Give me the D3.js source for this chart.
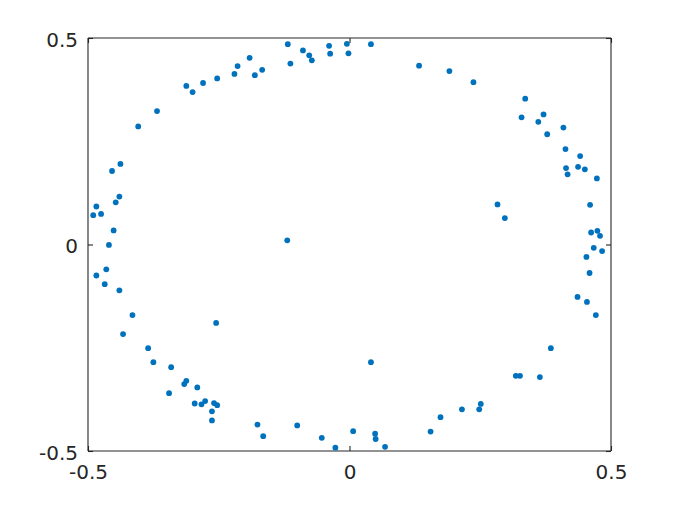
<!DOCTYPE html>
<html>
<head>
<meta charset="utf-8">
<script src="https://cdn.jsdelivr.net/npm/d3@7"></script>
<style>
  html, body { margin: 0; padding: 0; background: #fff; }
  svg { display: block; }
</style>
</head>
<body>
<svg id="chart" width="676" height="508"></svg>
<script>
// ---- data ----
const xValues = [
  -0.191, -0.214, -0.220, -0.181, -0.253, -0.280, -0.312, -0.300, -0.368, -0.404,
  -0.438, -0.454, -0.118, -0.089, -0.077, -0.072, -0.113, -0.167, -0.039, -0.037,
  -0.005, -0.002, 0.041, 0.133, 0.191, 0.237, 0.336, 0.329, 0.371, 0.361,
  0.378, 0.409, 0.413, 0.441, 0.437, 0.414, 0.450, 0.417, 0.473, 0.283,
  0.297, 0.460, 0.462, 0.474, 0.479, 0.467, 0.483, 0.453, 0.459, 0.436,
  0.454, 0.471, 0.385, 0.318, 0.326, 0.364, 0.251, 0.248, 0.215, 0.174,
  0.155, -0.176, -0.165, -0.100, -0.053, -0.027, 0.007, 0.041, 0.049, 0.050,
  0.068, -0.415, -0.433, -0.255, -0.385, -0.375, -0.341, -0.312, -0.316, -0.291,
  -0.345, -0.296, -0.283, -0.276, -0.259, -0.253, -0.263, -0.263, -0.440, -0.447,
  -0.484, -0.490, -0.475, -0.451, -0.460, -0.465, -0.484, -0.468, -0.440, -0.119
];
const yValues = [
  0.452, 0.432, 0.413, 0.410, 0.402, 0.391, 0.384, 0.369, 0.323, 0.286,
  0.195, 0.178, 0.485, 0.470, 0.458, 0.446, 0.438, 0.423, 0.481, 0.462,
  0.486, 0.463, 0.485, 0.433, 0.420, 0.393, 0.353, 0.308, 0.315, 0.297,
  0.267, 0.283, 0.231, 0.214, 0.188, 0.185, 0.182, 0.170, 0.160, 0.097,
  0.064, 0.096, 0.029, 0.033, 0.021, -0.008, -0.016, -0.030, -0.069, -0.127,
  -0.139, -0.171, -0.251, -0.318, -0.318, -0.321, -0.386, -0.399, -0.399, -0.418,
  -0.453, -0.436, -0.464, -0.438, -0.468, -0.492, -0.452, -0.285, -0.458, -0.471,
  -0.490, -0.171, -0.217, -0.190, -0.251, -0.285, -0.297, -0.330, -0.338, -0.346,
  -0.360, -0.385, -0.387, -0.379, -0.384, -0.389, -0.404, -0.426, 0.116, 0.102,
  0.092, 0.071, 0.074, 0.034, -0.001, -0.060, -0.075, -0.096, -0.111, 0.010
];
const xTicks = [-0.5, 0, 0.5];
const yTicks = [-0.5, 0, 0.5];
const xTickLabels = ["-0.5", "0", "0.5"];
const yTickLabels = ["-0.5", "0", "0.5"];

// ---- layout ----
const svg = d3.select("#chart");
const pLeft = 88, pRight = 611, pTop = 38, pBottom = 451;
const x = d3.scaleLinear().domain([-0.5, 0.5]).range([pLeft, pRight]);
const y = d3.scaleLinear().domain([-0.5, 0.5]).range([pBottom, pTop]);
const axisColor = "#262626";
const tickLen = 5;
const fontFamily = "'DejaVu Sans', sans-serif";
const fontSize = 20;

// bottom axis
const xAxisB = d3.axisBottom(x).tickValues(xTicks).tickSize(-tickLen).tickPadding(14)
  .tickFormat((d, i) => xTickLabels[i]);
const gB = svg.append("g").attr("transform", `translate(0,${pBottom})`).call(xAxisB);
// top axis
const gT = svg.append("g").attr("transform", `translate(0,${pTop})`)
  .call(d3.axisTop(x).tickValues(xTicks).tickSize(-tickLen).tickFormat(""));
// left axis
const yAxisL = d3.axisLeft(y).tickValues(yTicks).tickSize(-tickLen).tickPadding(10)
  .tickFormat((d, i) => yTickLabels[i]);
const gL = svg.append("g").attr("transform", `translate(${pLeft},0)`).call(yAxisL);
// right axis
const gR = svg.append("g").attr("transform", `translate(${pRight},0)`)
  .call(d3.axisRight(y).tickValues(yTicks).tickSize(-tickLen).tickFormat(""));

[gB, gT, gL, gR].forEach(g => {
  g.selectAll("path.domain").attr("stroke", axisColor).attr("stroke-width", 1.1);
  g.selectAll(".tick line").attr("stroke", axisColor).attr("stroke-width", 1.1);
  g.selectAll(".tick text").attr("fill", axisColor)
    .style("font-family", fontFamily).style("font-size", fontSize + "px");
});
gL.selectAll(".tick text").attr("dy", "0.42em");
gB.selectAll("path.domain").attr("d", `M${pLeft},0H${pRight}`);
gT.selectAll("path.domain").attr("d", `M${pLeft},0H${pRight}`);
gL.selectAll("path.domain").attr("d", `M0,${pTop}V${pBottom}`);
gR.selectAll("path.domain").attr("d", `M0,${pTop}V${pBottom}`);

// points
const pts = xValues.map((v, i) => ({x: v, y: yValues[i]}));
svg.append("g").selectAll("circle").data(pts).join("circle")
  .attr("cx", d => x(d.x))
  .attr("cy", d => y(d.y))
  .attr("r", 2.9)
  .attr("fill", "#0072BD");
</script>
</body>
</html>
